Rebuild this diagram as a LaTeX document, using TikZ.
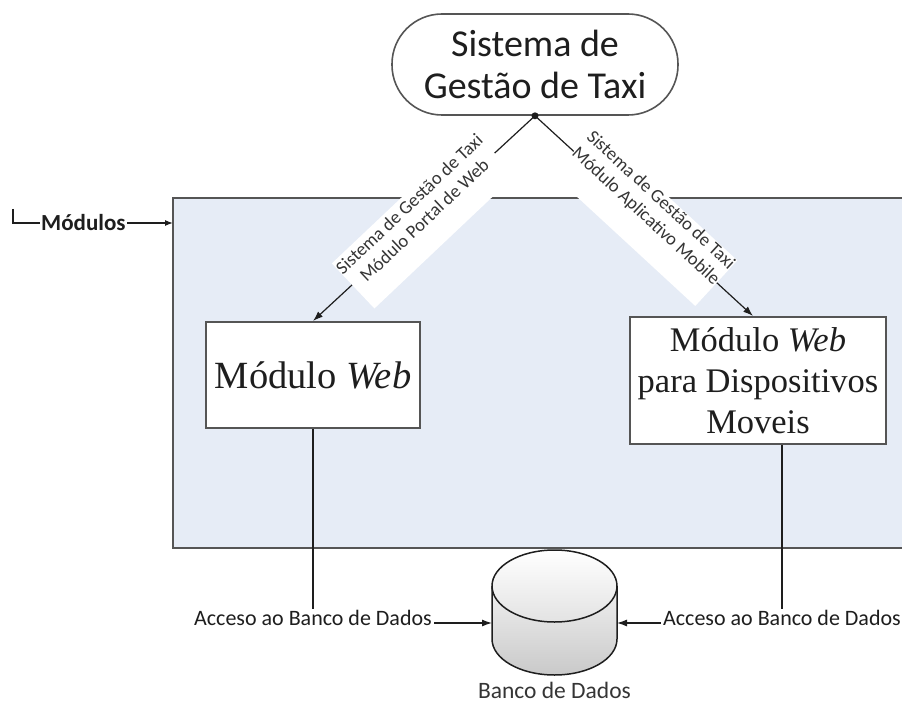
\documentclass[tikz,border=0pt]{standalone}
\usepackage{fontspec}
\setmainfont{Liberation Serif}
\newfontfamily\carl{Carlito}
\usetikzlibrary{arrows.meta}
\definecolor{panelfill}{RGB}{230,236,246}
\definecolor{edge}{RGB}{85,85,85}
\definecolor{ink}{RGB}{30,30,30}

\begin{document}
\begin{tikzpicture}[x=1pt,y=-1pt,
  conn/.style={draw=ink, line width=1.2pt, -{Latex[length=10pt,width=7pt]}},
  modbox/.style={draw=edge, line width=2pt, fill=white, inner sep=0pt, align=center, text=ink},
  slopebg/.style={fill=white, inner sep=0pt, minimum width=194pt, minimum height=62pt},
  slopetext/.style={font=\carl\fontsize{18.5}{22}\selectfont, text=ink!90, align=center, inner sep=0pt},
  acclabel/.style={font=\carl\fontsize{22}{26}\selectfont, text=ink, fill=white,
                   inner xsep=2pt, inner ysep=1pt, anchor=base, yshift=-2pt},
]
\useasboundingbox (0,0) rectangle (902,703);

% module panel (open on the right)
\fill[panelfill] (173,198) rectangle (906,548);
\draw[edge, line width=2.5pt] (906,198) -- (173,198) -- (173,548) -- (906,548);

% "Módulos" marker
\coordinate (mk) at (13,209);
\coordinate (mend) at (173,223);
\draw[ink, line width=1.2pt, -{Latex[length=8pt,width=6pt]}] (mk) |-
  node[pos=0.72, fill=white, inner sep=1pt, text=ink,
       font=\carl\bfseries\fontsize{23}{27}\selectfont] (mlabel) {Módulos} (mend);

% system node
\node[draw=edge, line width=1.6pt, fill=white, rounded corners=50pt,
      minimum width=286pt, minimum height=101pt, inner sep=0pt, align=center, text=ink,
      font=\carl\fontsize{38}{42}\selectfont] (top) at (535,64.5) {Sistema de\\Gestão de Taxi};

% module boxes
\node[modbox, minimum width=214pt, minimum height=106pt,
      font=\fontsize{38.5}{42}\selectfont] (lbox) at (313,375) {Módulo \textit{Web}};
\node[modbox, minimum width=256pt, minimum height=127pt,
      font=\fontsize{34.5}{41}\selectfont] (rbox) at (758,380.5)
      {Módulo \textit{Web}\\para Dispositivos\\Moveis};

% connectors from the system node
\draw[conn] (top.south) -- (lbox.north);
\draw[conn] (top.south) -- ([xshift=-5pt]rbox.north);
\fill[ink] (top.south) circle (3.5pt);

% sloped connector labels
\node[slopebg, rotate=43.4] (lbg) at (423.6,219.3) {};
\node[slopetext, rotate=43.4] (ltxt) at (416.7,212.0)
  {Sistema de Gestão de Taxi\\Módulo Portal de Web};
\node[slopebg, rotate=-42.7] (rbg) at (645,217.4) {};
\node[slopetext, rotate=-42.7] (rtxt) at (653.1,208.6)
  {Sistema de Gestão de Taxi\\Módulo Aplicativo Mobile};

% database cylinder
\shade[top color=gray!12, bottom color=gray!42]
  (492,586) -- (492,639) arc[start angle=180, end angle=360, x radius=62.5pt, y radius=36pt]
  -- (617,586) -- cycle;
\draw[ink, line width=1.5pt]
  (492,586) -- (492,639) arc[start angle=180, end angle=360, x radius=62.5pt, y radius=36pt]
  -- (617,586);
\draw[ink, line width=1.5pt, top color=white, bottom color=gray!22]
  (554.5,586) ellipse[x radius=62.5pt, y radius=36pt];
\coordinate (dbL) at (492,623);
\coordinate (dbR) at (617,623);
\node[font=\carl\fontsize{23.5}{28}\selectfont, text=ink!90, anchor=base, inner sep=0pt]
  (dblabel) at (554.5,698.5) {Banco de Dados};

% database access connectors
\draw[conn] (lbox.south) |- node[acclabel] (accl) {Acceso ao Banco de Dados} (dbL);
\draw[conn] ([xshift=24pt]rbox.south) |- node[acclabel] (accr) {Acceso ao Banco de Dados} (dbR);
\end{tikzpicture}
\end{document}
